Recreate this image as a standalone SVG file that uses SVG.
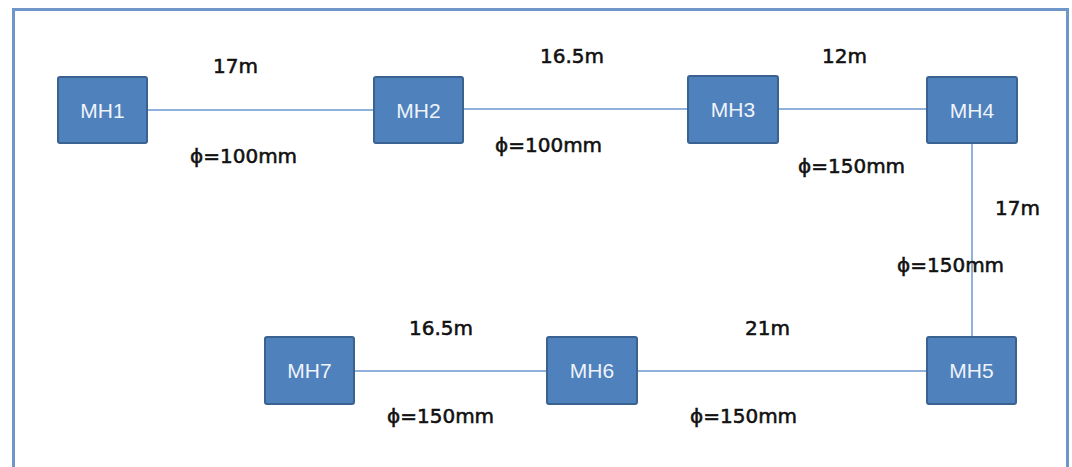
<svg xmlns="http://www.w3.org/2000/svg" width="1072" height="467" viewBox="0 0 1072 467">
  <style>
    .mh rect { fill: #4f81bd; stroke: #3a6290; stroke-width: 2; }
    .mh text { fill: #eef3fa; font-family: "Liberation Sans", Arial, sans-serif; font-size: 21px; text-anchor: middle; }
    .pipe { stroke: #8fb1dc; stroke-width: 2; fill: none; }
    .lbl { fill: #111; font-family: "DejaVu Sans", "Liberation Sans", sans-serif; font-size: 20px; stroke: #111; stroke-width: 0.55; }
  </style>

  <!-- outer frame -->
  <rect x="0" y="0" width="1072" height="467" fill="#ffffff"/>
  <path d="M13.5 467 V9.5 H1067.5 V467" fill="none" stroke="#6f96c9" stroke-width="3"/>

  <!-- pipe runs between manholes -->
  <g id="connectors">
    <line class="pipe" x1="147" y1="110" x2="374" y2="110"/>
    <line class="pipe" x1="463" y1="109" x2="688" y2="109"/>
    <line class="pipe" x1="778" y1="109" x2="927" y2="109"/>
    <line class="pipe" x1="972" y1="143" x2="972" y2="337"/>
    <line class="pipe" x1="637" y1="371" x2="927" y2="371"/>
    <line class="pipe" x1="354" y1="371" x2="547" y2="371"/>
  </g>

  <!-- manholes -->
  <g id="MH1" class="mh"><rect x="58" y="77" width="89" height="66" rx="2"/><text x="102.5" y="118">MH1</text></g>
  <g id="MH2" class="mh"><rect x="374" y="77" width="89" height="66" rx="2"/><text x="418.5" y="118">MH2</text></g>
  <g id="MH3" class="mh"><rect x="688" y="76" width="90" height="67" rx="2"/><text x="733" y="117">MH3</text></g>
  <g id="MH4" class="mh"><rect x="927" y="77" width="90" height="66" rx="2"/><text x="972" y="118">MH4</text></g>
  <g id="MH5" class="mh"><rect x="927" y="337" width="89" height="67" rx="2"/><text x="971.5" y="378">MH5</text></g>
  <g id="MH6" class="mh"><rect x="547" y="337" width="90" height="67" rx="2"/><text x="592" y="378">MH6</text></g>
  <g id="MH7" class="mh"><rect x="265" y="337" width="89" height="67" rx="2"/><text x="309.5" y="378">MH7</text></g>

  <!-- lengths and diameters -->
  <g id="labels">
    <text class="lbl" x="213" y="73">17m</text>
    <text class="lbl" x="190" y="163">ϕ=100mm</text>
    <text class="lbl" x="540" y="63">16.5m</text>
    <text class="lbl" x="495" y="152">ϕ=100mm</text>
    <text class="lbl" x="822" y="63">12m</text>
    <text class="lbl" x="798" y="173">ϕ=150mm</text>
    <text class="lbl" x="995" y="215">17m</text>
    <text class="lbl" x="897" y="272">ϕ=150mm</text>
    <text class="lbl" x="409" y="335">16.5m</text>
    <text class="lbl" x="745" y="335">21m</text>
    <text class="lbl" x="387" y="423">ϕ=150mm</text>
    <text class="lbl" x="690" y="423">ϕ=150mm</text>
  </g>
</svg>
